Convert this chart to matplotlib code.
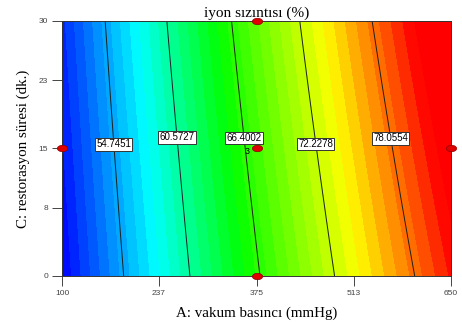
import numpy as np
import matplotlib
matplotlib.use("Agg")
import matplotlib.pyplot as plt
from matplotlib.colors import LinearSegmentedColormap
from matplotlib.path import Path

coef_names = ["b0", "A", "C", "AC", "A2"]
coef_values = [42.18, 0.0704, 0.0367, 1.2e-4, -1.75e-5]

a_range = [100, 650]
c_range = [0, 30]
x_ticks = [100, 237, 375, 513, 650]
y_ticks = [0, 8, 15, 23, 30]
contour_levels = [54.7451, 60.5727, 66.4002, 72.2278, 78.0554]
label_x = [177, 262, 355, 459, 566]
label_c = [15.5, 16.3, 16.2, 15.5, 16.2]
design_a = [375, 375, 375, 100, 650]
design_c = [30, 15, 0, 15, 15]

b0, bA, bC, bAC, bA2 = coef_values
A = np.linspace(a_range[0], a_range[1], 300)
C = np.linspace(c_range[0], c_range[1], 200)
AA, CC = np.meshgrid(A, C)
R = b0 + bA * AA + bC * CC + bAC * AA * CC + bA2 * AA ** 2

cmap = LinearSegmentedColormap.from_list(
    "de", [(0.0, (0, 0, 1)), (0.25, (0, 1, 1)), (0.46, (0, 1, 0)),
           (0.72, (1, 1, 0)), (0.92, (1, 0, 0)), (1.0, (1, 0, 0))])

fig = plt.figure(figsize=(4.62, 3.29), dpi=100)
ax = fig.add_axes([0.1342, 0.1611, 0.842, 0.7751])
ax.contourf(AA, CC, R, levels=np.linspace(R.min(), R.max(), 40), cmap=cmap)
cs = ax.contour(AA, CC, R, levels=contour_levels, colors="#202020", linewidths=0.7)
texts = ax.clabel(cs, fmt="%.4f", inline=False, fontsize=7,
                  manual=list(zip(label_x, label_c)))
for t in texts:
    t.set_rotation(0)
    t.set_family("Liberation Sans")
    t.set_color("black")
    t.set_bbox(dict(boxstyle="square,pad=0.12", fc="white", ec="#333333", lw=0.7))

ell = Path(Path.unit_circle().vertices * np.array([1.0, 0.62]), Path.unit_circle().codes)
ax.scatter(design_a, design_c, s=55, marker=ell, color="#e00000",
           edgecolors="#900000", linewidths=0.5, clip_on=False, zorder=5)
ax.text(362, 14.7, "3", fontsize=6.5, family="Liberation Sans", ha="center", va="center")

ax.set_xlim(a_range)
ax.set_ylim(c_range)
ax.set_xticks(x_ticks)
ax.set_yticks(y_ticks)
ax.tick_params(labelsize=6, colors="#444444", length=7, width=0.7, pad=3)
for lbl in ax.get_xticklabels() + ax.get_yticklabels():
    lbl.set_family("Liberation Sans")
for s in ax.spines.values():
    s.set_linewidth(0.7)
    s.set_color("#333333")

ax.set_title("iyon sızıntısı (%)", family="Liberation Serif", fontsize=11, pad=3)
ax.set_xlabel("A: vakum basıncı (mmHg)", family="Liberation Serif", fontsize=10.8, labelpad=7)
ax.set_ylabel("C: restorasyon süresi (dk.)", family="Liberation Serif", fontsize=10.8, labelpad=6)

fig.savefig("out.png", dpi=100)
